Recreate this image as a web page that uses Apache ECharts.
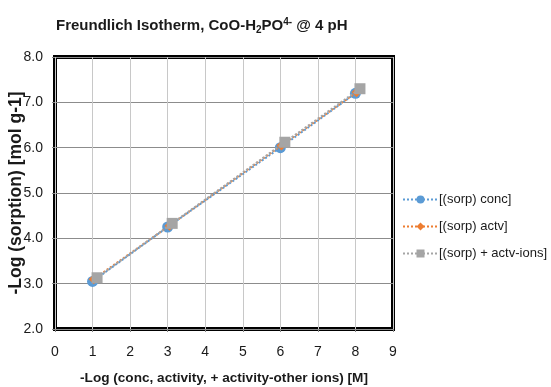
<!DOCTYPE html>
<html>
<head>
<meta charset="utf-8">
<script src="https://cdn.jsdelivr.net/npm/echarts@6/dist/echarts.min.js"></script>
<style>
  html, body { margin: 0; padding: 0; background: #fff; }
  #chart { width: 551px; height: 387px; }
</style>
</head>
<body>
<div id="chart"></div>
<script>
// values
const seriesNames = ['[(sorp) conc]', '[(sorp) actv]', '[(sorp) + actv-ions]']
const concPoints = [[1.0, 3.05], [3.0, 4.25], [6.0, 6.0], [8.0, 7.2]]
const actvPoints = [[1.03, 3.1], [3.05, 4.28], [6.03, 6.05], [8.03, 7.22]]
const ionsPoints = [[1.12, 3.13], [3.12, 4.33], [6.12, 6.12], [8.12, 7.3]]
const xTicks = [0, 1, 2, 3, 4, 5, 6, 7, 8, 9]
const yTicks = ['2.0', '3.0', '4.0', '5.0', '6.0', '7.0', '8.0']

const font = '"Liberation Sans", Arial, sans-serif'
const colors = ['#5b9bd5', '#ed7d31', '#a5a5a5']
const symbols = ['circle', 'diamond', 'rect']
const sizes = [11, 10, 11]

const chart = echarts.init(document.getElementById('chart'))

const makeSeries = (name, data, i) => ({
  name,
  type: 'line',
  data,
  symbol: symbols[i],
  symbolSize: sizes[i],
  color: colors[i],
  lineStyle: { type: 'dotted', width: 2, color: colors[i] },
  itemStyle: { color: colors[i] },
  z: 3 + i
})

const option = {
  animation: false,
  textStyle: { fontFamily: font },
  title: {
    text: '{t|Freundlich Isotherm, CoO-H}{sub|2}{t|PO}{sup|4-}{t| @ 4 pH}',
    left: 51,
    top: 12,
    textStyle: {
      rich: {
        t: { fontFamily: font, fontWeight: 'bold', fontSize: 15, color: '#1a1a1a' },
        sub: { fontFamily: font, fontWeight: 'bold', fontSize: 10, color: '#1a1a1a', padding: [8, 0, 0, 0] },
        sup: { fontFamily: font, fontWeight: 'bold', fontSize: 10, color: '#1a1a1a', padding: [0, 0, 8, 0] }
      }
    }
  },
  legend: {
    data: seriesNames,
    orient: 'vertical',
    left: 397,
    top: 188,
    itemWidth: 35,
    itemHeight: 10,
    itemGap: 14,
    textStyle: { fontFamily: font, fontSize: 13, color: '#1a1a1a', padding: [0, 0, 0, -4] }
  },
  grid: {
    left: 55,
    right: 158,
    top: 57,
    bottom: 58,
    containLabel: false,
    outerBoundsMode: 'none',
    show: true,
    borderColor: '#000',
    borderWidth: 4,
    z: 0
  },
  xAxis: {
    type: 'value',
    min: 0,
    max: 9,
    interval: 1,
    name: '-Log (conc, activity, + activity-other ions) [M]',
    nameLocation: 'middle',
    nameGap: 42,
    nameMoveOverlap: false,
    nameTextStyle: { fontFamily: font, fontWeight: 'bold', fontSize: 13.6, color: '#1a1a1a' },
    axisLine: { show: false },
    axisTick: { show: true, length: 3, lineStyle: { color: '#888' } },
    axisLabel: {
      fontFamily: font, fontSize: 14, color: '#1a1a1a', margin: 16,
      formatter: (v) => String(xTicks[Math.round(v)])
    },
    splitLine: { show: true, lineStyle: { color: '#c8c8c8', width: 1 } }
  },
  yAxis: {
    type: 'value',
    min: 2,
    max: 8,
    interval: 1,
    name: '-Log (sorption) [mol g-1]',
    nameLocation: 'middle',
    nameGap: 30,
    nameMoveOverlap: false,
    nameTextStyle: { fontFamily: font, fontWeight: 'bold', fontSize: 17.5, color: '#1a1a1a' },
    axisLine: { show: false },
    axisTick: { show: true, length: 3, lineStyle: { color: '#888' } },
    axisLabel: {
      fontFamily: font, fontSize: 14, color: '#1a1a1a', margin: 12,
      formatter: (v) => yTicks[Math.round(v) - 2]
    },
    splitLine: { show: true, lineStyle: { color: '#8c8c8c', width: 1 } }
  },
  series: [
    makeSeries(seriesNames[0], concPoints, 0),
    makeSeries(seriesNames[1], actvPoints, 1),
    makeSeries(seriesNames[2], ionsPoints, 2)
  ]
}

chart.setOption(option)
</script>
</body>
</html>
